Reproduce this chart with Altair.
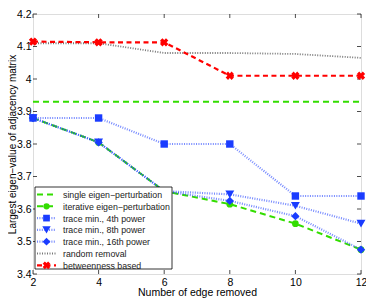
import altair as alt
import pandas as pd

x_vals = [2, 4, 6, 8, 10, 12]
single = [3.93, 3.93, 3.93, 3.93, 3.93, 3.93]
iterative = [3.88, 3.805, 3.655, 3.615, 3.555, 3.475]
trace4 = [3.88, 3.88, 3.80, 3.80, 3.64, 3.64]
trace8 = [3.88, 3.805, 3.655, 3.645, 3.61, 3.555]
trace16 = [3.88, 3.805, 3.655, 3.625, 3.578, 3.475]
random_rm = [4.11, 4.11, 4.08, 4.08, 4.077, 4.065]
betweenness = [4.115, 4.113, 4.113, 4.01, 4.01, 4.01]

legend_labels = ["single eigen\u2212perturbation", "iterative eigen\u2212perturbation",
                 "trace min., 4th power", "trace min., 8th power",
                 "trace min., 16th power", "random removal", "betweenness based"]

x_ticks = [2, 4, 6, 8, 10, 12]
y_ticks = [3.4, 3.5, 3.6, 3.7, 3.8, 3.9, 4.0, 4.1, 4.2]

W, H = 328, 260
GREEN = "#33dd00"
BLUE = "#1a3cff"
RED = "#ff0000"
GRAY = "#777777"
FONT = "Liberation Sans"

xs = alt.Scale(domain=[2, 12], nice=False)
ys = alt.Scale(domain=[3.4, 4.2], nice=False, zero=False)

x_axis = alt.Axis(values=x_ticks, tickSize=0, labelPadding=3, domain=False,
                  grid=False, labelFontSize=10.5, titleFontSize=10.5,
                  titleFontWeight="normal", titlePadding=0, labelColor="black",
                  titleColor="black", labelFont=FONT, titleFont=FONT,
                  labelFlush=False)
y_axis = alt.Axis(values=y_ticks, format=".1~f", tickSize=0, labelPadding=2,
                  domain=False, grid=False, labelFontSize=10.5, titleFontSize=10,
                  titleFontWeight="normal", titleX=-16, titleAngle=270,
                  titleBaseline="bottom", labelColor="black",
                  titleColor="black", labelFont=FONT, titleFont=FONT,
                  labelFlush=False)
X_TITLE = "Number of edge removed"
Y_TITLE = "Largest eigen\u2212value of adjacency matrix"

def df(vals):
    return pd.DataFrame({"x": x_vals, "y": vals})

X = alt.X("x:Q", scale=xs, axis=x_axis, title=X_TITLE)
Y = alt.Y("y:Q", scale=ys, axis=y_axis, title=Y_TITLE)

layers = []

# inward ticks
tk = 4
tx = pd.DataFrame({"x": x_ticks})
ty = pd.DataFrame({"y": y_ticks})
layers.append(alt.Chart(tx).mark_rule(color="black", strokeWidth=0.7).encode(x=X, y=alt.value(H), y2=alt.value(H - tk)))
layers.append(alt.Chart(tx).mark_rule(color="black", strokeWidth=0.7).encode(x=X, y=alt.value(0), y2=alt.value(tk)))
layers.append(alt.Chart(ty).mark_rule(color="black", strokeWidth=0.7).encode(y=Y, x=alt.value(0), x2=alt.value(tk)))
layers.append(alt.Chart(ty).mark_rule(color="black", strokeWidth=0.7).encode(y=Y, x=alt.value(W), x2=alt.value(W - tk)))

BDASH = [1, 1.4]
BOP = 0.6

# series lines
layers.append(alt.Chart(df(random_rm)).mark_line(color=GRAY, strokeDash=[1, 1.5], strokeWidth=1.8).encode(x=X, y=Y))
layers.append(alt.Chart(df(single)).mark_line(color=GREEN, strokeDash=[6, 4], strokeWidth=2).encode(x=X, y=Y))
layers.append(alt.Chart(df(iterative)).mark_line(color=GREEN, strokeDash=[6, 4], strokeWidth=2).encode(x=X, y=Y))
layers.append(alt.Chart(df(iterative)).mark_point(shape="circle", filled=True, color=GREEN, size=45, opacity=1).encode(x=X, y=Y))
for vals, shape, sz in [(trace4, "square", 55), (trace8, "triangle-down", 80), (trace16, "diamond", 70)]:
    layers.append(alt.Chart(df(vals)).mark_line(color=BLUE, strokeDash=BDASH, strokeWidth=2.2, opacity=BOP).encode(x=X, y=Y))
    layers.append(alt.Chart(df(vals)).mark_point(shape=shape, filled=True, color=BLUE, size=sz, opacity=1).encode(x=X, y=Y))
layers.append(alt.Chart(df(betweenness)).mark_line(color=RED, strokeDash=[5, 3.5], strokeWidth=2.2).encode(x=X, y=Y))
layers.append(alt.Chart(df(betweenness)).mark_point(shape="cross", angle=45, filled=True, color=RED, size=70, opacity=1).encode(x=X, y=Y))

# legend
lx0, ly0, lx1, ly1 = 2, 173, 139, 255
row_y = [180.5, 192.3, 204.1, 215.9, 227.7, 239.5, 251.3]
leg_box = alt.Chart(pd.DataFrame({"a": [0]})).mark_rect(fill="white", stroke="black", strokeWidth=0.8).encode(
    x=alt.value(lx0), x2=alt.value(lx1), y=alt.value(ly0), y2=alt.value(ly1))
layers.append(leg_box)

styles = [
    dict(color=GREEN, dash=[6, 4], shape=None, w=2, op=1),
    dict(color=GREEN, dash=[6, 4], shape="circle", w=2, op=1),
    dict(color=BLUE, dash=BDASH, shape="square", w=2.2, op=BOP),
    dict(color=BLUE, dash=BDASH, shape="triangle-down", w=2.2, op=BOP),
    dict(color=BLUE, dash=BDASH, shape="diamond", w=2.2, op=BOP),
    dict(color=GRAY, dash=[1, 1.5], shape=None, w=1.8, op=1),
    dict(color=RED, dash=[5, 3.5], shape="cross", w=2.2, op=1),
]
sizes = {"circle": 40, "square": 45, "triangle-down": 70, "diamond": 60, "cross": 60}
for lbl, yy, st in zip(legend_labels, row_y, styles):
    d = pd.DataFrame({"t": [lbl]})
    layers.append(alt.Chart(d).mark_rule(color=st["color"], strokeDash=st["dash"], strokeWidth=st["w"], opacity=st["op"]).encode(
        x=alt.value(4), x2=alt.value(23), y=alt.value(yy)))
    if st["shape"]:
        kw = dict(angle=45) if st["shape"] == "cross" else {}
        layers.append(alt.Chart(d).mark_point(shape=st["shape"], filled=True, color=st["color"], size=sizes[st["shape"]], opacity=1, **kw).encode(
            x=alt.value(13.5), y=alt.value(yy)))
    layers.append(alt.Chart(d).mark_text(align="left", baseline="middle", fontSize=8.8, font=FONT, color="#222222").encode(
        x=alt.value(30), y=alt.value(yy + 0.5), text="t:N"))

chart = alt.layer(*layers).properties(
    width=W, height=H,
    autosize=alt.AutoSizeParams(type="none"),
    padding={"left": 25, "top": 6, "right": 5, "bottom": 26},
).configure_view(stroke="black", strokeWidth=0.8).configure(background="white")

chart.save("out.html", embed_options={"renderer": "svg", "actions": False})
